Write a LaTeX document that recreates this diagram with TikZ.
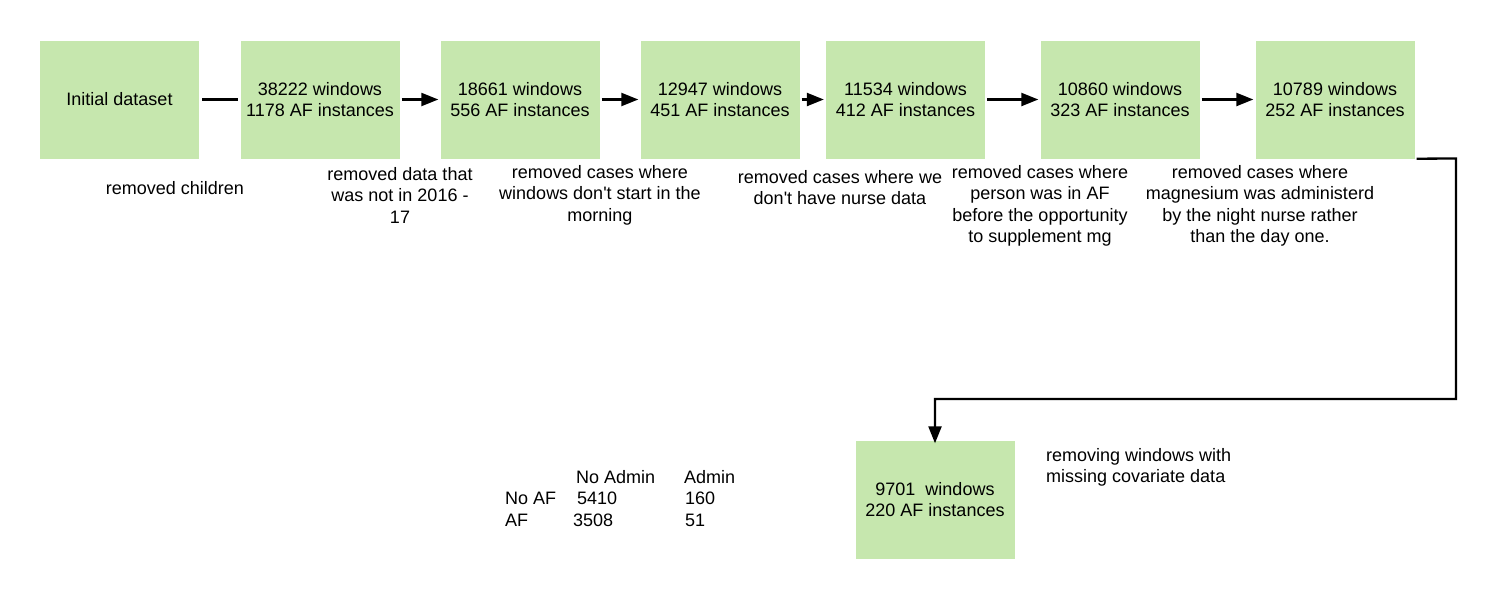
\documentclass[tikz,border=0pt]{standalone}
\usepackage{fontspec}
\setmainfont{Liberation Sans}
\usetikzlibrary{arrows.meta}
\definecolor{boxgreen}{HTML}{C6E7AE}
\begin{document}
\begin{tikzpicture}[x=1pt,y=-1pt,
  every node/.style={font=\fontsize{18}{21.5}\selectfont, inner sep=0pt},
  stage/.style={fill=boxgreen, draw=none, minimum width=159pt, minimum height=118pt, align=center},
  note/.style={align=center},
  conn/.style={line width=2.3pt},
  arr/.style={conn, -{Triangle[length=17pt,width=13pt]}}]
\useasboundingbox (0,0) rectangle (1496,600);
\node[stage] (b1) at (119.5,99.5) {Initial dataset};
\node[stage] (b2) at (320,99.5) {38222 windows\\1178 AF instances};
\node[stage] (b3) at (520,99.5) {18661 windows\\556 AF instances};
\node[stage] (b4) at (720,99.5) {12947 windows\\451 AF instances};
\node[stage] (b5) at (905.5,99.5) {11534 windows\\412 AF instances};
\node[stage] (b6) at (1120,99.5) {10860 windows\\323 AF instances};
\node[stage] (b7) at (1335,99.5) {10789 windows\\252 AF instances};
\node[stage] (b8) at (935,499.5) {9701\ \ windows\\220 AF instances};

\draw[conn] ([xshift=3pt]b1.east) -- ([xshift=-2pt]b2.west);
\draw[arr] ([xshift=2pt]b2.east) -- ([xshift=-2pt]b3.west);
\draw[arr] ([xshift=2pt]b3.east) -- ([xshift=-2pt]b4.west);
\draw[arr] ([xshift=2pt]b4.east) -- ([xshift=-2pt]b5.west);
\draw[arr] ([xshift=2pt]b5.east) -- ([xshift=-2pt]b6.west);
\draw[arr] ([xshift=2pt]b6.east) -- ([xshift=-2pt]b7.west);
\coordinate (c1) at (1456,158.5);
\coordinate (c2) at (1456,399);
\draw[arr] ([xshift=2pt]b7.south east) -- (c1) -- (c2) -| ([yshift=-3pt]b8.north);

\node[note] (n1) at (175,188) {removed children};
\node[note] (n2) at (400,195) {removed data that\\was not in 2016 -\\17};
\node[note] (n3) at (600,195) {removed cases where\\windows don\textquotesingle t start in the\\morning};
\node[note] (n4) at (840,187.5) {removed cases where we\\don\textquotesingle t have nurse data};
\node[note] (n5) at (1040,206) {removed cases where\\person was in AF\\before the opportunity\\to supplement mg};
\node[note] (n6) at (1260,206) {removed cases where\\magnesium was administerd\\by the night nurse rather\\than the day one.};
\node[align=left, anchor=west] (n7) at (1046,467.5) {removing windows with\\missing covariate data};

\node[anchor=west] (t1) at (576,477) {No Admin};
\node[anchor=west] (t2) at (684,477) {Admin};
\node[anchor=west] (t3) at (505,498.5) {No AF};
\node[anchor=west] (t4) at (577,498.5) {5410};
\node[anchor=west] (t5) at (685,498.5) {160};
\node[anchor=west] (t6) at (505,520) {AF};
\node[anchor=west] (t7) at (573,520) {3508};
\node[anchor=west] (t8) at (685,520) {51};
\end{tikzpicture}
\end{document}
